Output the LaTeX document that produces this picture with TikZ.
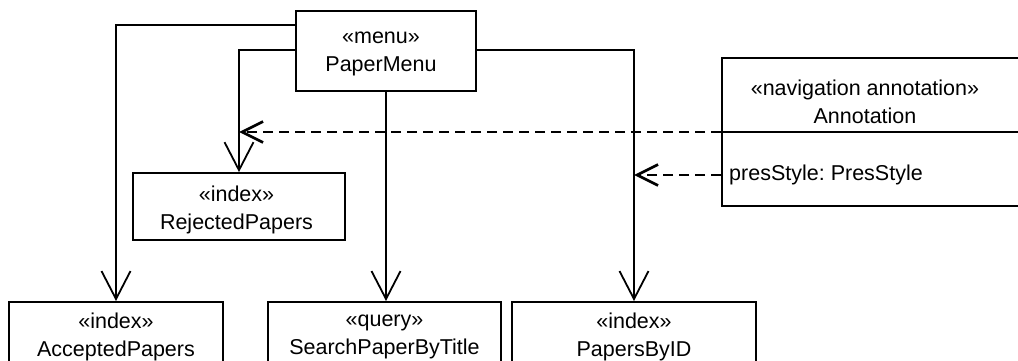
\documentclass[tikz,border=0pt]{standalone}
\usepackage{fontspec}
\setmainfont{Liberation Sans}
\usetikzlibrary{arrows.meta}
\frenchspacing
\newcommand\umlfont{\fontsize{21.5}{28}\selectfont}
\begin{document}
\begin{tikzpicture}[x=1pt,y=-1pt,
  box/.style={draw, line width=1.8pt, inner sep=0pt, align=center, font=\umlfont},
  txt/.style={inner sep=0pt, align=center, font=\umlfont},
  assoc/.style={line width=1.8pt, -{Straight Barb[length=28pt,width=29pt]}},
  dep/.style={line width=2.7pt, dash pattern=on 10pt off 6pt, -{Straight Barb[length=21pt,width=21pt]}}]
\useasboundingbox (0,0) rectangle (1018,361);
\clip (0,0) rectangle (1018,361);

% classes
\node[box, minimum width=180pt, minimum height=80pt] (menu) at (386,51) {};
\node[txt] (menutext) at (381,54) {«menu»\\PaperMenu};
\node[box, minimum width=212pt, minimum height=67pt] (rej) at (239,206.5) {};
\node[txt] (rejtext) at (236.5,209.5) {«index»\\RejectedPapers};
\node[box, minimum width=214pt, minimum height=70pt, anchor=north] (acc) at (116,301) {«index»\\AcceptedPapers};
\node[box, minimum width=233pt, minimum height=70pt, anchor=north] (search) at (384.5,301) {«query»\\SearchPaperByTitle};
\node[box, minimum width=244pt, minimum height=70pt, anchor=north] (ids) at (634,301) {«index»\\PapersByID};

% annotation class with one attribute
\node[box, minimum width=318pt, minimum height=148pt] (annot) at (881,132) {};
\draw[line width=1.8pt] (annot.west) -- (annot.east);
\node[txt] (annotname) at (865,101.5) {«navigation annotation»\\Annotation};
\node[txt, anchor=west] (pres) at (729,175) {presStyle: PresStyle};

% navigation links from the menu
\draw[assoc] ([yshift=-15pt]menu.north west) -| (acc.north);
\draw[assoc] ([yshift=-40pt]menu.north west) -| (rej.north);
\draw[assoc] (menu.south) -- (menu.south |- search.north);
\draw[assoc] ([yshift=-40pt]menu.north east) -| (ids.north);

% annotation dependencies
\draw[dep] (annot.west) -- (annot.west -| rej.north);
\draw[dep] (annot.west |- pres.west) -- (pres.west -| ids.north);
\end{tikzpicture}
\end{document}
